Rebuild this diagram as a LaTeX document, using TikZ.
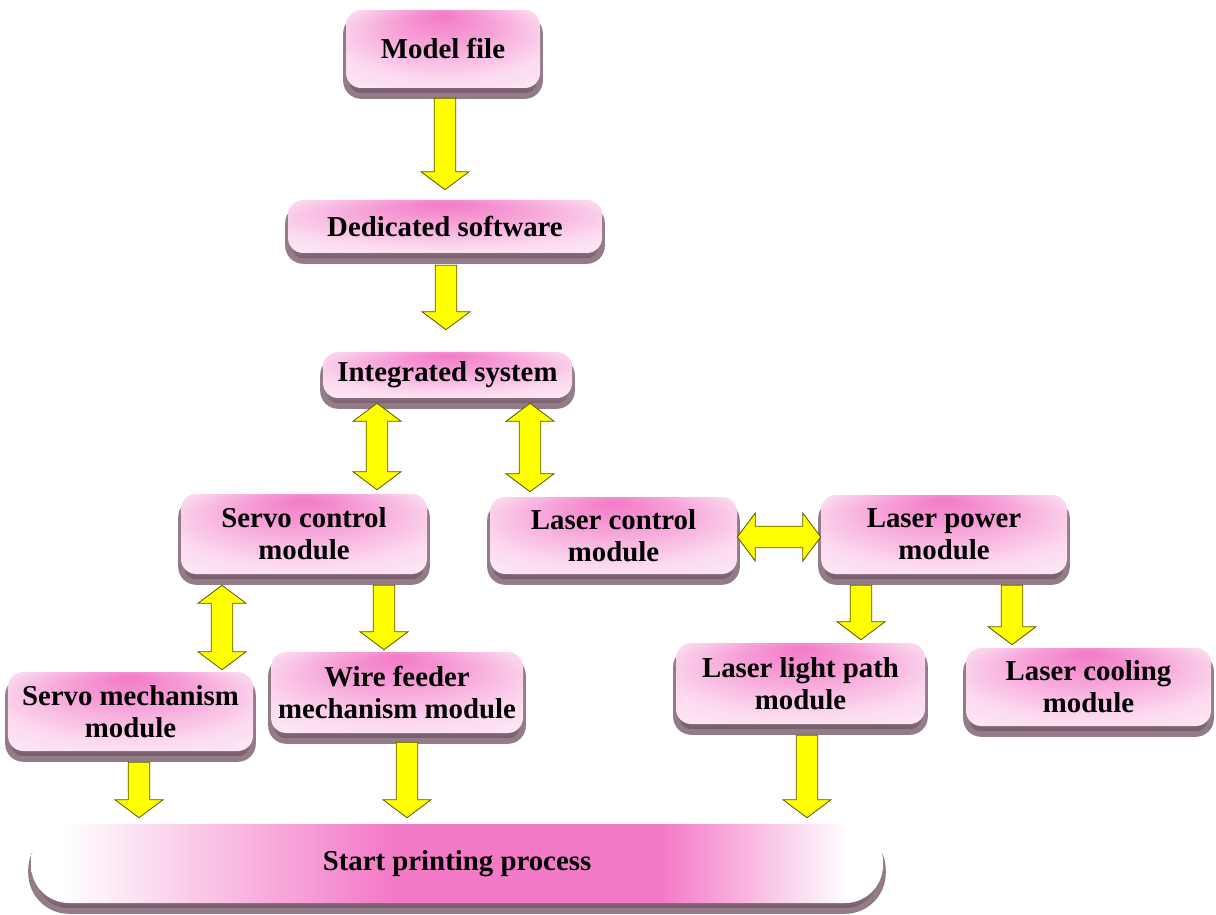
\documentclass[tikz,border=0pt]{standalone}
\usepackage{fontspec}
\setmainfont{Liberation Serif}
\usetikzlibrary{calc}
\usetikzlibrary{shadows}

\definecolor{boxpink}{RGB}{243,122,199}
\definecolor{framedark}{RGB}{118,88,104}
\definecolor{framelight}{RGB}{214,206,210}
\definecolor{arrowfill}{RGB}{255,255,0}
\definecolor{arrowline}{RGB}{90,90,0}

\pgfdeclareradialshading{boxshade}{\pgfpoint{0bp}{22bp}}{color(0bp)=(boxpink); color(12bp)=(boxpink!72!white); color(28bp)=(boxpink!28!white); color(45bp)=(boxpink!8!white)}
\pgfdeclarehorizontalshading{barshade}{100bp}{color(0bp)=(white); color(27bp)=(white); color(46bp)=(boxpink); color(62bp)=(boxpink); color(73bp)=(white); color(100bp)=(white)}

\newcommand{\arrhl}{0.45cm}
\newcommand{\arrhw}{0.6cm}
\newcommand{\arrsw}{0.27cm}

\begin{document}
\begin{tikzpicture}
		\tikzset{module/.style={rounded corners=0.38cm, inner sep=0pt, align=center,
				font=\fontsize{20.5}{23}\selectfont\bfseries, shade, shading=boxshade,
				general shadow={shadow yshift=-0.2cm, shading=axis, top color=framelight,
					bottom color=framedark, draw=framedark!70!framelight, line width=0.14cm}}}
		\tikzset{bar/.style={module, rounded corners=0.95cm, shading=barshade}}
		\tikzset{blockarrow/.style={fill=arrowfill, draw=arrowline, line width=0.6pt,
				to path={(\tikztostart) coordinate (ba-s) (\tikztotarget) coordinate (ba-t)
					($(ba-t)!\arrhl!(ba-s)$) coordinate (ba-h)
					($(ba-s)!\arrsw!90:(ba-t)$) -- ($(ba-h)!\arrsw!90:(ba-t)$) -- ($(ba-h)!\arrhw!90:(ba-t)$)
					-- (ba-t) -- ($(ba-h)!\arrhw!-90:(ba-t)$) -- ($(ba-h)!\arrsw!-90:(ba-t)$)
					-- ($(ba-s)!\arrsw!-90:(ba-t)$) -- cycle}}}
		\tikzset{twoway/.style={fill=arrowfill, draw=arrowline, line width=0.6pt,
				to path={(\tikztostart) coordinate (ba-s) (\tikztotarget) coordinate (ba-t)
					($(ba-t)!\arrhl!(ba-s)$) coordinate (ba-h)
					($(ba-s)!\arrhl!(ba-t)$) coordinate (ba-g)
					(ba-s) -- ($(ba-g)!\arrhw!90:(ba-t)$) -- ($(ba-g)!\arrsw!90:(ba-t)$)
					-- ($(ba-h)!\arrsw!90:(ba-t)$) -- ($(ba-h)!\arrhw!90:(ba-t)$) -- (ba-t)
					-- ($(ba-h)!\arrhw!-90:(ba-t)$) -- ($(ba-h)!\arrsw!-90:(ba-t)$)
					-- ($(ba-g)!\arrsw!-90:(ba-t)$) -- ($(ba-g)!\arrhw!-90:(ba-t)$) -- cycle}}}
		\useasboundingbox (0, 0) rectangle (30.4, -22.875);
		%modules
		\node[module, minimum width=4.85cm, minimum height=1.95cm] (model) at (11.075, -1.225) {Model file};
		\node[module, minimum width=7.85cm, minimum height=1.325cm] (soft) at (11.125, -5.6625) {Dedicated software};
		\node[module, minimum width=6.225cm, minimum height=1.15cm] (integ) at (11.1875, -9.375) {Integrated system};
		\node[module, minimum width=6.15cm, minimum height=2cm] (servo) at (7.6, -13.35) {Servo control\\module};
		\node[module, minimum width=6.175cm, minimum height=1.925cm] (lctrl) at (15.3375, -13.3875) {Laser control\\module};
		\node[module, minimum width=6.15cm, minimum height=1.975cm] (lpow) at (23.6, -13.3625) {Laser power\\module};
		\node[module, minimum width=6.125cm, minimum height=1.975cm] (mech) at (3.2625, -17.7875) {Servo mechanism\\module};
		\node[module, minimum width=6.3cm, minimum height=2.025cm] (wire) at (9.925, -17.3125) {Wire feeder\\mechanism module};
		\node[module, minimum width=6.225cm, minimum height=2.025cm] (path) at (20.0125, -17.0875) {Laser light path\\module};
		\node[module, minimum width=6.125cm, minimum height=1.95cm] (cool) at (27.2125, -17.175) {Laser cooling\\module};
		\node[bar, minimum width=21.3cm, minimum height=1.975cm] (start) at (11.425, -21.5875) {Start printing process};
		%arrows
		\draw[blockarrow] ([xshift=0.05cm, yshift=-0.25cm]model.south) to ([yshift=0.25cm]soft.north);
		\draw[blockarrow] ([xshift=0.025cm, yshift=-0.3cm]soft.south) to ([xshift=-0.0375cm, yshift=0.55cm]integ.north);
		\draw[twoway] ([xshift=-1.7625cm, yshift=-0.125cm]integ.south) to ([xshift=1.825cm, yshift=0.1cm]servo.north);
		\draw[twoway] ([xshift=2.0625cm, yshift=-0.125cm]integ.south) to ([xshift=-2.0875cm, yshift=0.125cm]lctrl.north);
		\draw[twoway] ([yshift=-0.0375cm]lctrl.east) to ([yshift=-0.0625cm]lpow.west);
		\draw[twoway] ([xshift=-2.05cm, yshift=-0.275cm]servo.south) to ([xshift=2.2875cm, yshift=0.05cm]mech.north);
		\draw[blockarrow] ([xshift=2cm, yshift=-0.275cm]servo.south) to ([xshift=-0.325cm, yshift=0.05cm]wire.north);
		\draw[blockarrow] ([xshift=-2.075cm, yshift=-0.275cm]lpow.south) to ([xshift=1.5125cm, yshift=0.075cm]path.north);
		\draw[blockarrow] ([xshift=1.7cm, yshift=-0.275cm]lpow.south) to ([xshift=-1.9125cm, yshift=0.075cm]cool.north);
		\draw[blockarrow] ([xshift=0.2125cm, yshift=-0.275cm]mech.south) to ([xshift=-7.95cm, yshift=0.15cm]start.north);
		\draw[blockarrow] ([xshift=0.25cm, yshift=-0.225cm]wire.south) to ([xshift=-1.25cm, yshift=0.15cm]start.north);
		\draw[blockarrow] ([xshift=0.1625cm, yshift=-0.275cm]path.south) to ([xshift=8.75cm, yshift=0.15cm]start.north);
\end{tikzpicture}
\end{document}
